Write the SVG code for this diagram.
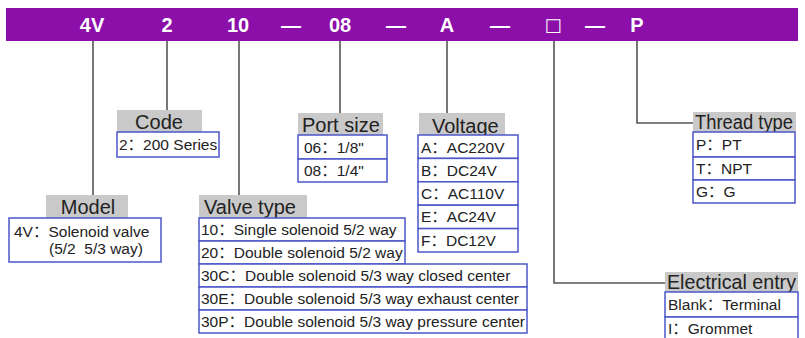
<svg xmlns="http://www.w3.org/2000/svg" width="805" height="338" viewBox="0 0 805 338">
<style>
.bar{fill:#8b0fa8}
.code{font-family:"Liberation Sans",Arial,sans-serif;font-weight:bold;font-size:20px;fill:#ffffff;text-anchor:middle}
.hd{fill:#c9c9c9}
.hdt{font-family:"Liberation Sans",Arial,"Noto Sans CJK SC",sans-serif;font-size:20px;fill:#222222}
.box{fill:#ffffff;stroke:#4b57c9;stroke-width:1.5}
.t{font-family:"Liberation Sans",Arial,"Noto Sans CJK SC",sans-serif;font-size:15.5px;fill:#222222}
.ln{fill:none;stroke:#555555;stroke-width:1.6}
</style>
<rect x="0" y="0" width="805" height="338" fill="#ffffff"/>
<g id="codebar">
<rect class="bar" x="6" y="8" width="792" height="33"/>
<text class="code" x="92" y="32">4V</text>
<text class="code" x="167" y="32">2</text>
<text class="code" x="238" y="32">10</text>
<text class="code" x="291" y="32">—</text>
<text class="code" x="340" y="32">08</text>
<text class="code" x="396" y="32">—</text>
<text class="code" x="447" y="32">A</text>
<text class="code" x="500" y="32">—</text>
<text class="code" x="553" y="31" style="font-family:'DejaVu Sans',sans-serif;font-weight:normal;font-size:18px">□</text>
<text class="code" x="595" y="32">—</text>
<text class="code" x="637" y="32">P</text>
</g>
<g id="connectors">
<path class="ln" d="M93 41V195"/>
<path class="ln" d="M167 41V110"/>
<path class="ln" d="M239 41V196"/>
<path class="ln" d="M340 41V113"/>
<path class="ln" d="M447 41V113"/>
<path class="ln" d="M554 41V283H665"/>
<path class="ln" d="M637 41V123H693"/>
</g>
<g id="model">
<rect class="hd" x="46" y="195" width="82" height="23"/>
<text class="hdt" x="88" y="214" text-anchor="middle">Model</text>
<rect class="box" x="9" y="218" width="152" height="44"/>
<text class="t" x="14" y="237">4V：Solenoid valve</text>
<text class="t" x="49" y="254" xml:space="preserve" style="white-space:pre">(5/2  5/3 way)</text>
</g>
<g id="code">
<rect class="hd" x="117" y="110" width="85" height="22"/>
<text class="hdt" x="159" y="129" text-anchor="middle">Code</text>
<rect class="box" x="117" y="132" width="102" height="25"/>
<text class="t" x="119" y="150">2：200 Series</text>
</g>
<g id="valvetype">
<rect class="hd" x="199" y="195" width="108" height="23"/>
<text class="hdt" x="204" y="214">Valve type</text>
<rect class="box" x="199" y="218" width="206" height="23"/>
<rect class="box" x="199" y="241" width="206" height="23"/>
<rect class="box" x="199" y="264" width="328" height="23"/>
<rect class="box" x="199" y="287" width="328" height="23"/>
<rect class="box" x="199" y="310" width="328" height="23"/>
<text class="t" x="201" y="235">10：Single solenoid 5/2 way</text>
<text class="t" x="201" y="258">20：Double solenoid 5/2 way</text>
<text class="t" x="201" y="281">30C：Double solenoid 5/3 way closed center</text>
<text class="t" x="201" y="304">30E：Double solenoid 5/3 way exhaust center</text>
<text class="t" x="201" y="327">30P：Double solenoid 5/3 way pressure center</text>
</g>
<g id="portsize">
<rect class="hd" x="298" y="113" width="85" height="22"/>
<text class="hdt" x="302" y="132">Port size</text>
<rect class="box" x="298" y="135" width="89" height="24"/>
<rect class="box" x="298" y="159" width="89" height="23"/>
<text class="t" x="304" y="153">06：1/8"</text>
<text class="t" x="304" y="176">08：1/4"</text>
</g>
<g id="voltage">
<rect class="hd" x="419" y="113" width="86" height="22"/>
<text class="hdt" x="432" y="133">Voltage</text>
<rect class="box" x="418" y="135" width="100" height="23.4"/>
<rect class="box" x="418" y="158.4" width="100" height="23.4"/>
<rect class="box" x="418" y="181.8" width="100" height="23.4"/>
<rect class="box" x="418" y="205.2" width="100" height="23.4"/>
<rect class="box" x="418" y="228.6" width="100" height="23.4"/>
<text class="t" x="421" y="153">A：AC220V</text>
<text class="t" x="421" y="176">B：DC24V</text>
<text class="t" x="421" y="199">C：AC110V</text>
<text class="t" x="421" y="222">E：AC24V</text>
<text class="t" x="421" y="246">F：DC12V</text>
</g>
<g id="threadtype">
<rect class="hd" x="693" y="112" width="103" height="20"/>
<text class="hdt" x="695" y="129" textLength="98" lengthAdjust="spacingAndGlyphs">Thread type</text>
<rect class="box" x="693" y="132" width="102" height="25"/>
<rect class="box" x="693" y="157" width="102" height="23"/>
<rect class="box" x="693" y="180" width="102" height="23"/>
<text class="t" x="696" y="150">P：PT</text>
<text class="t" x="696" y="174">T：NPT</text>
<text class="t" x="696" y="197">G：G</text>
</g>
<g id="electricalentry">
<rect class="hd" x="665" y="272" width="133" height="20"/>
<text class="hdt" x="667" y="289" textLength="129" lengthAdjust="spacingAndGlyphs">Electrical entry</text>
<rect class="box" x="665" y="292" width="133" height="25"/>
<rect class="box" x="665" y="317" width="133" height="25"/>
<text class="t" x="668" y="310">Blank：Terminal</text>
<text class="t" x="668" y="334">I：Grommet</text>
</g>
</svg>
